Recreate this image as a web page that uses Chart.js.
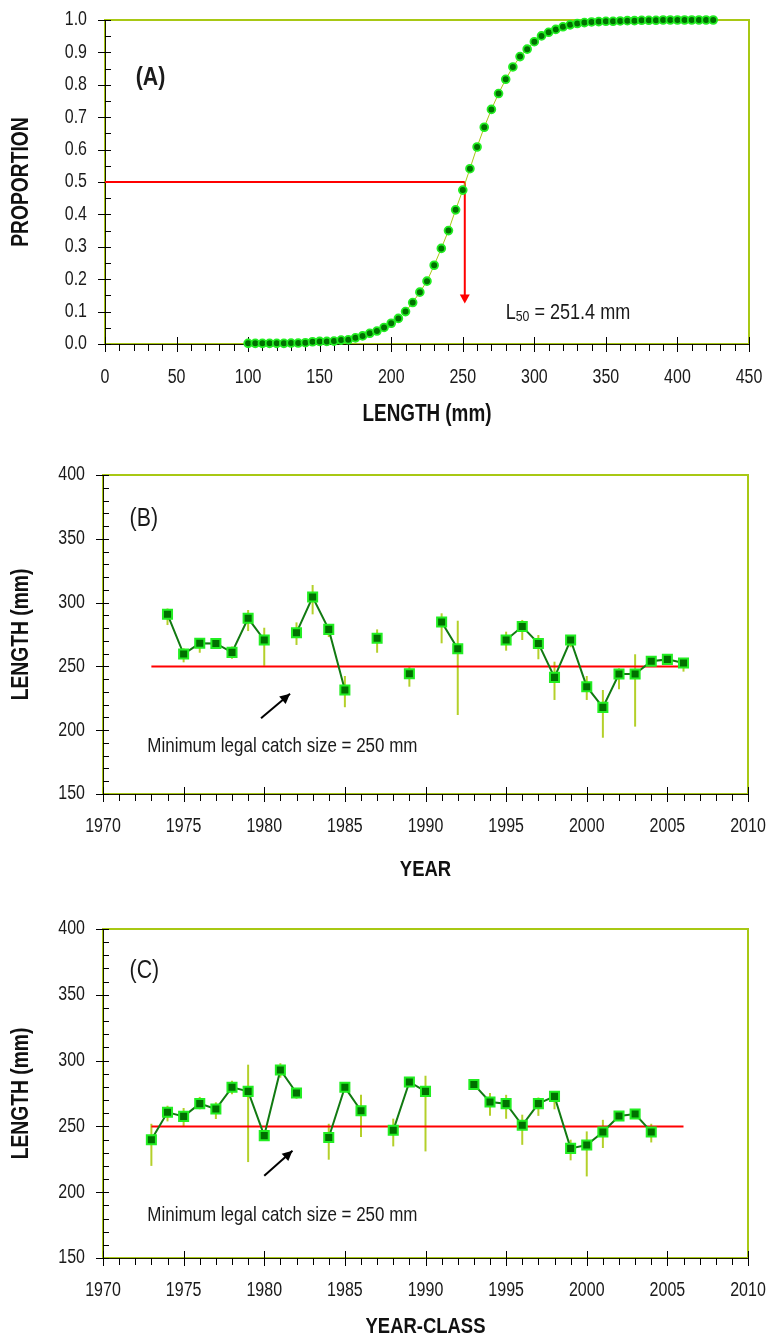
<!DOCTYPE html>
<html><head><meta charset="utf-8">
<script src="https://cdn.jsdelivr.net/npm/chart.js@4.4.1/dist/chart.umd.min.js"></script>
<style>
html,body{margin:0;padding:0;background:#fff;width:766px;height:1338px;overflow:hidden;}
.wrap{position:absolute;left:0;width:766px;}
canvas{display:block;}
</style></head><body>
<div class="wrap" style="top:0;height:440px"><canvas id="cA"></canvas></div>
<div class="wrap" style="top:440px;height:445px"><canvas id="cB"></canvas></div>
<div class="wrap" style="top:885px;height:455px"><canvas id="cC"></canvas></div>
<script>
// ---------- DATA ----------
// Panel A: maturity ogive
const lengthsA = [100,105,110,115,120,125,130,135,140,145,150,155,160,165,170,175,180,185,190,195,
  200,205,210,215,220,225,230,235,240,245,250,255,260,265,270,275,280,285,290,295,
  300,305,310,315,320,325,330,335,340,345,350,355,360,365,370,375,380,385,390,395,
  400,405,410,415,420,425];
const proportionA = [0.002,0.002,0.002,0.002,0.002,0.002,0.003,0.003,0.004,0.007,0.008,0.008,0.009,0.012,0.013,0.019,0.025,0.033,0.040,0.051,
  0.064,0.079,0.100,0.128,0.160,0.194,0.243,0.295,0.350,0.414,0.475,0.541,0.608,0.669,0.724,0.773,0.817,0.855,0.887,0.910,
  0.933,0.951,0.962,0.971,0.979,0.985,0.989,0.992,0.994,0.995,0.996,0.996,0.997,0.998,0.998,0.999,0.999,0.999,1.000,1.000,
  1.000,1.000,1.000,1.000,1.000,1.000];
const L50 = 251.4;
const L50_P = 0.5;
const L50_ARROW_TIP = 0.125;
const xTicksA = [0,50,100,150,200,250,300,350,400,450];
const yTicksA = ['0.0','0.1','0.2','0.3','0.4','0.5','0.6','0.7','0.8','0.9','1.0'];

// Panel B: mean length by year
const yearsB = [1974,1975,1976,1977,1978,1979,1980,1981,1982,1983,1984,1985,1986,1987,1988,1989,1990,
  1991,1992,1993,1994,1995,1996,1997,1998,1999,2000,2001,2002,2003,2004,2005,2006];
const meanB = [290.8,259.7,268.1,268.0,261.0,287.7,270.7,null,276.4,304.4,279.0,231.5,null,272.0,null,244.3,null,
  284.8,263.9,null,null,270.7,281.2,268.0,241.4,270.7,234.1,217.9,244.0,244.0,254.0,255.5,252.7];
const lowB = [282.4,253.2,260.7,264.0,256.0,277.7,250.5,null,266.8,290.8,273.0,218.0,null,260.7,null,234.1,null,
  268.1,211.9,null,null,262.3,270.7,255.6,223.7,265.0,223.7,194.1,232.0,202.8,251.0,253.0,245.9];
const highB = [295.4,264.2,272.0,271.0,265.5,294.2,280.3,null,284.5,313.8,283.0,242.5,null,279.0,null,249.8,null,
  291.6,285.8,null,null,277.2,286.4,274.6,253.7,273.0,242.5,231.5,248.5,259.5,256.4,258.0,255.0];

// Panel C: mean length by year-class
const yearsC = [1973,1974,1975,1976,1977,1978,1979,1980,1981,1982,1983,1984,1985,1986,1987,1988,1989,1990,
  1991,1992,1993,1994,1995,1996,1997,1998,1999,2000,2001,2002,2003,2004];
const meanC = [239.9,260.7,257.6,267.3,263.2,279.7,276.6,243.0,292.9,275.4,null,241.6,279.7,261.9,null,247.0,283.8,276.6,
  null,null,281.9,268.6,267.3,250.8,267.3,272.8,233.3,235.9,245.8,257.9,259.4,245.8];
const lowC = [220.0,253.8,250.0,263.0,255.6,274.5,222.9,240.0,287.0,271.0,null,224.7,277.0,241.9,null,234.8,281.0,231.0,
  null,null,null,258.1,255.8,236.0,258.0,263.0,224.2,212.0,233.6,255.0,257.0,237.8];
const highC = [252.0,265.7,264.0,272.4,268.3,284.6,296.9,246.0,298.0,279.0,null,252.0,282.0,274.0,null,255.9,286.0,288.5,
  null,null,null,275.4,274.0,258.9,272.0,276.0,239.9,246.2,255.0,261.0,262.0,252.0];

const xTicksYear = [1970,1975,1980,1985,1990,1995,2000,2005,2010];
const yTicksLength = [150,200,250,300,350,400];
const minLegal = 250;
const minLegalStartB = 1973, minLegalEndB = 2006;
const minLegalStartC = 1973, minLegalEndC = 2006;
const arrowB = {from:[1979.8, 209.3], to:[1981.6, 228.5]};
const arrowC = {from:[1980.0, 212.5], to:[1981.75, 231.5]};

// ---------- STYLE ----------
const FONT = "'Liberation Sans', Arial, sans-serif";
const NARROW = 0.82;
const FRAME = '#a8c814';
const DARK = '#007000';
const BRIGHT = '#22ee22';
const LINE_DARK = '#117a11';
const ERR = '#b4d02a';
const TXT = '#1a1a1a';

function isMult(v, step){ const r = v/step; return Math.abs(r - Math.round(r)) < 1e-6; }
function seg(ctx,x1,y1,x2,y2){ ctx.beginPath(); ctx.moveTo(x1,y1); ctx.lineTo(x2,y2); ctx.stroke(); }
function arrowHead(ctx, x1,y1,x2,y2,len,half,color){
  const ang = Math.atan2(y2-y1, x2-x1);
  ctx.save(); ctx.fillStyle = color; ctx.translate(x2,y2); ctx.rotate(ang);
  ctx.beginPath(); ctx.moveTo(0,0); ctx.lineTo(-len,-half); ctx.lineTo(-len,half); ctx.closePath(); ctx.fill();
  ctx.restore();
}
// narrow text (Arial Narrow look): horizontally condensed Liberation Sans
function ntext(ctx, text, x, y, size, opt){
  opt = opt || {};
  ctx.save();
  ctx.font = (opt.bold ? 'bold ' : '') + size + 'px ' + FONT;
  ctx.fillStyle = opt.color || TXT;
  ctx.textBaseline = opt.baseline || 'middle';
  ctx.translate(x, y);
  if (opt.rotate) ctx.rotate(opt.rotate);
  ctx.scale(NARROW, 1);
  const w = ctx.measureText(text).width;
  let dx = 0;
  if (opt.align === 'center') dx = -w/2; else if (opt.align === 'right') dx = -w;
  ctx.textAlign = 'left';
  ctx.fillText(text, dx, 0);
  ctx.restore();
  return w * NARROW;
}

const deco = {
  id: 'deco',
  beforeDatasetsDraw(chart, args, o){
    const {ctx, chartArea:a, scales:{x,y}} = chart;
    ctx.save();
    // frame
    ctx.strokeStyle = FRAME; ctx.lineWidth = 2;
    ctx.strokeRect(a.left, a.top, a.right-a.left, a.bottom-a.top);
    // axis lines
    ctx.strokeStyle = '#1a1a00'; ctx.lineWidth = 1;
    seg(ctx, a.left+0.5, a.top, a.left+0.5, a.bottom);
    seg(ctx, a.left, a.bottom+0.5, a.right, a.bottom+0.5);
    // tick marks
    ctx.strokeStyle = '#000';
    const ny = Math.round((y.max - y.min)/o.yMinor);
    for (let i=0;i<=ny;i++){
      const v = y.min + i*o.yMinor;
      const py = Math.round(y.getPixelForValue(v)) + 0.5;
      if (isMult(v - y.min, o.yMajor)) seg(ctx, a.left-7, py, a.left+6, py);
      else seg(ctx, a.left, py, a.left+6, py);
    }
    const nx = Math.round((x.max - x.min)/o.xMinor);
    for (let i=0;i<=nx;i++){
      const v = x.min + i*o.xMinor;
      const px = Math.round(x.getPixelForValue(v)) + 0.5;
      if (isMult(v - x.min, o.xMajor)) seg(ctx, px, a.bottom-7, px, a.bottom+8);
      else seg(ctx, px, a.bottom, px, a.bottom+7);
    }
    // error bars
    if (o.err){
      ctx.strokeStyle = ERR; ctx.lineWidth = 2;
      o.err.years.forEach((yr,i)=>{
        const lo = o.err.low[i], hi = o.err.high[i];
        if (lo==null || hi==null) return;
        const px = x.getPixelForValue(yr);
        seg(ctx, px, y.getPixelForValue(lo), px, y.getPixelForValue(hi));
      });
    }
    ctx.restore();
    // tick labels
    o.xTicks.forEach(t => ntext(ctx, String(t), x.getPixelForValue(Number(t)), a.bottom + o.xLabelGap, 19.5, {align:'center'}));
    o.yTicks.forEach(t => ntext(ctx, String(t), a.left - 18, y.getPixelForValue(Number(t)), 19.5, {align:'right'}));
    // axis titles
    ntext(ctx, o.xTitle, (a.left + a.right)/2, a.bottom + o.xTitleGap, o.xTitleSize, {align:'center', bold:true, color:'#111'});
    ntext(ctx, o.yTitle, 22, (a.top + a.bottom)/2, 23.5, {align:'center', bold:true, color:'#111', rotate:-Math.PI/2});
  },
  afterDatasetsDraw(chart, args, o){
    const {ctx, scales:{x,y}} = chart;
    (o.arrows||[]).forEach(ar=>{
      arrowHead(ctx, x.getPixelForValue(ar.from[0]), y.getPixelForValue(ar.from[1]),
        x.getPixelForValue(ar.to[0]), y.getPixelForValue(ar.to[1]), ar.len, ar.half, ar.color);
    });
    (o.texts||[]).forEach(t=>{
      let px = x.getPixelForValue(t.x); const py = y.getPixelForValue(t.y);
      t.parts.forEach(p=>{
        px += ntext(ctx, p.text, px, py + (p.dy||0), p.size, {bold: p.bold});
      });
    });
  }
};
Chart.register(deco);

function makeOptions(cfg){
  return {
    responsive: true, maintainAspectRatio: false, animation: false, devicePixelRatio: 1,
    layout: { padding: { left: cfg.left, top: cfg.top, right: cfg.right, bottom: cfg.bottom } },
    plugins: { legend: {display:false}, tooltip: {enabled:false}, deco: cfg.deco },
    scales: {
      x: { type: 'linear', display: false, min: cfg.xmin, max: cfg.xmax },
      y: { type: 'linear', display: false, min: cfg.ymin, max: cfg.ymax }
    }
  };
}

const markerRect = { pointStyle: 'rect', pointRadius: 6.4, pointBorderWidth: 2,
  pointBackgroundColor: DARK, pointBorderColor: BRIGHT };

// ---------- PANEL A ----------
new Chart(document.getElementById('cA'), {
  type: 'line',
  data: { datasets: [
    { label: 'Proportion mature', data: lengthsA.map((v,i)=>({x:v, y:proportionA[i]})),
      borderColor: FRAME, borderWidth: 1, pointRadius: 3.9, pointBorderWidth: 1.8,
      pointBackgroundColor: DARK, pointBorderColor: BRIGHT, clip: false, tension: 0 },
    { label: 'L50 level', data: [{x:0, y:L50_P}, {x:L50, y:L50_P}],
      borderColor: '#ff0000', borderWidth: 2, pointRadius: 0, clip: false },
    { label: 'L50 arrow', data: [{x:L50, y:L50_P}, {x:L50, y:L50_ARROW_TIP + 0.02}],
      borderColor: '#ff0000', borderWidth: 2, pointRadius: 0, clip: false }
  ]},
  options: makeOptions({
    left: 105, top: 20, right: 17, bottom: 96, xmin: 0, xmax: 450, ymin: 0, ymax: 1,
    deco: {
      yMinor: 0.05, yMajor: 0.1, xMinor: 10, xMajor: 50,
      xTicks: xTicksA, yTicks: yTicksA, xLabelGap: 34, xTitleGap: 71, xTitleSize: 23,
      xTitle: 'LENGTH (mm)', yTitle: 'PROPORTION',
      arrows: [{from:[L50, L50_P], to:[L50, L50_ARROW_TIP], len: 9, half: 5, color: '#ff0000'}],
      texts: [
        {x: 21.5, y: 0.82, parts: [{text:'(A)', size: 26, bold: true}]},
        {x: 280, y: 0.096, parts: [
          {text:'L', size: 22},
          {text:'50', size: 15, dy: 4},
          {text:' = 251.4 mm', size: 22}]}
      ]
    }
  })
});

// ---------- PANEL B / C ----------
function yearPanel(id, years, mean, low, high, cfg){
  new Chart(document.getElementById(id), {
    type: 'line',
    data: { datasets: [
      Object.assign({ label: 'Mean length', data: years.map((yr,i)=>({x:yr, y:mean[i]})),
        borderColor: LINE_DARK, borderWidth: 2, spanGaps: false, clip: false, tension: 0 }, markerRect),
      { label: 'Minimum legal size', data: [{x:cfg.lineStart, y:minLegal}, {x:cfg.lineEnd, y:minLegal}],
        borderColor: '#ff0000', borderWidth: 2, pointRadius: 0, clip: false },
      { label: 'arrow', data: [{x:cfg.arrow.from[0], y:cfg.arrow.from[1]}, {x:cfg.arrow.to[0], y:cfg.arrow.to[1]}],
        borderColor: '#000', borderWidth: 2, pointRadius: 0, clip: false }
    ]},
    options: makeOptions({
      left: 103, top: cfg.top, right: 18, bottom: cfg.bottom, xmin: 1970, xmax: 2010, ymin: 150, ymax: 400,
      deco: {
        yMinor: 10, yMajor: 50, xMinor: 1, xMajor: 5,
        xTicks: xTicksYear, yTicks: yTicksLength, xLabelGap: 33, xTitleGap: cfg.xTitleGap, xTitleSize: 22.5,
        xTitle: cfg.xtitle, yTitle: 'LENGTH (mm)',
        err: {years, low, high},
        arrows: [{from: cfg.arrow.from, to: cfg.arrow.to, len: 10, half: 5, color: '#000'}],
        texts: [
          {x: 1971.65, y: cfg.labelY, parts: [{text: cfg.label, size: 26}]},
          {x: 1972.75, y: cfg.noteY, parts: [{text: 'Minimum legal catch size = 250 mm', size: 20.7}]}
        ]
      }
    })
  });
}

yearPanel('cB', yearsB, meanB, lowB, highB, {
  top: 35, bottom: 91, xTitleGap: 76, xtitle: 'YEAR', label: '(B)', labelY: 366, noteY: 187.6,
  lineStart: minLegalStartB, lineEnd: minLegalEndB, arrow: arrowB
});
yearPanel('cC', yearsC, meanC, lowC, highC, {
  top: 44, bottom: 82, xTitleGap: 69, xtitle: 'YEAR-CLASS', label: '(C)', labelY: 368, noteY: 182.1,
  lineStart: minLegalStartC, lineEnd: minLegalEndC, arrow: arrowC
});
</script>
</body></html>
